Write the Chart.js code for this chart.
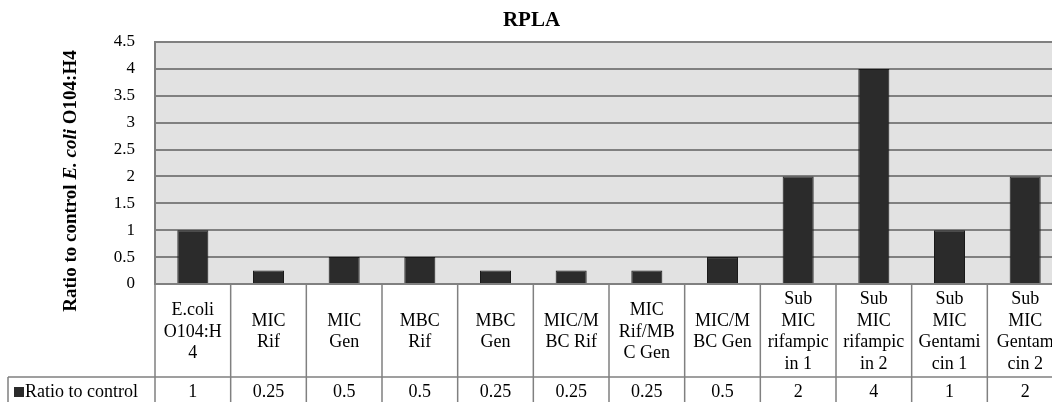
<!DOCTYPE html>
<html><head><meta charset="utf-8">
<script src="https://cdn.jsdelivr.net/npm/chart.js@4"></script>
<style>
html,body{margin:0;padding:0;background:#fff;overflow:hidden;width:1052px;height:402px}
#wrap{width:1070px;height:402px;position:relative}
canvas{display:block}
</style></head>
<body><div id="wrap"><canvas id="c" width="1070" height="402"></canvas></div>
<script>
const chartTitle = 'RPLA';
const seriesName = 'Ratio to control';
const categories = [
  ['E.coli','O104:H','4'],
  ['MIC','Rif'],
  ['MIC','Gen'],
  ['MBC','Rif'],
  ['MBC','Gen'],
  ['MIC/M','BC Rif'],
  ['MIC','Rif/MB','C Gen'],
  ['MIC/M','BC Gen'],
  ['Sub','MIC','rifampic','in 1'],
  ['Sub','MIC','rifampic','in 2'],
  ['Sub','MIC','Gentami','cin 1'],
  ['Sub','MIC','Gentam','cin 2']
];
const values = [1, 0.25, 0.5, 0.5, 0.25, 0.25, 0.25, 0.5, 2, 4, 1, 2];
const valueLabels = ['1','0.25','0.5','0.5','0.25','0.25','0.25','0.5','2','4','1','2'];
const yTickLabels = ['0','0.5','1','1.5','2','2.5','3','3.5','4','4.5'];
const yTitleParts = [
  {text:'Ratio to control ', italic:false},
  {text:'E. coli', italic:true},
  {text:' O104:H4', italic:false}
];

const FONT = '"Liberation Serif","Times New Roman",serif';
const BAR = '#2b2b2b';
const GRID = '#808080';

const deco = {
  id: 'deco',
  beforeDraw(chart) {
    const ctx = chart.ctx, ca = chart.chartArea;
    ctx.save();
    ctx.fillStyle = '#ffffff';
    ctx.fillRect(0, 0, chart.width, chart.height);
    ctx.fillStyle = '#e2e2e2';
    ctx.fillRect(ca.left, ca.top, ca.right - ca.left, ca.bottom - ca.top);
    ctx.restore();
  },
  afterDraw(chart) {
    const ctx = chart.ctx, ca = chart.chartArea, xs = chart.scales.x;
    const n = categories.length;
    const colW = (ca.right - ca.left) / n;
    ctx.save();
    // title
    ctx.fillStyle = '#000';
    ctx.font = 'bold 21px ' + FONT;
    ctx.textAlign = 'center';
    ctx.textBaseline = 'middle';
    ctx.fillText(chartTitle, ca.right / 2, 21);
    // y title
    ctx.save();
    ctx.translate(71, 181);
    ctx.rotate(-Math.PI / 2);
    let total = 0;
    const fonts = yTitleParts.map(p => (p.italic ? 'italic ' : '') + 'bold 19px ' + FONT);
    yTitleParts.forEach((p, i) => { ctx.font = fonts[i]; total += ctx.measureText(p.text).width; });
    let x = -total / 2;
    ctx.textAlign = 'left';
    yTitleParts.forEach((p, i) => { ctx.font = fonts[i]; ctx.fillText(p.text, x, 0); x += ctx.measureText(p.text).width; });
    ctx.restore();
    // table
    const rowTop = ca.bottom, rowMid = ca.bottom + 93, rowBot = chart.height + 4;
    ctx.strokeStyle = GRID;
    ctx.lineWidth = 1.5;
    ctx.beginPath();
    for (let i = 0; i <= n; i++) {
      const xx = (i < n ? xs.getPixelForValue(i) - colW / 2 : xs.getPixelForValue(n - 1) + colW / 2);
      ctx.moveTo(xx, rowTop); ctx.lineTo(xx, rowBot);
    }
    ctx.moveTo(8, rowMid); ctx.lineTo(ca.right, rowMid);
    ctx.moveTo(8, rowMid); ctx.lineTo(8, rowBot);
    ctx.stroke();
    ctx.fillStyle = '#000';
    ctx.font = '18px ' + FONT;
    ctx.textAlign = 'center';
    ctx.textBaseline = 'middle';
    const lh = 21.5;
    const midLabel = (rowTop + rowMid) / 2 + 1.5;
    categories.forEach((lines, i) => {
      const cx = xs.getPixelForValue(i);
      const y0 = midLabel - (lines.length - 1) * lh / 2;
      lines.forEach((ln, j) => ctx.fillText(ln, cx, y0 + j * lh));
      ctx.fillText(valueLabels[i], cx, rowMid + 15);
    });
    // legend cell
    ctx.fillStyle = BAR;
    ctx.fillRect(14, rowMid + 10, 10, 10);
    ctx.fillStyle = '#000';
    ctx.textAlign = 'left';
    ctx.fillText(seriesName, 25, rowMid + 15);
    ctx.restore();
  }
};

new Chart(document.getElementById('c'), {
  type: 'bar',
  data: {
    labels: categories.map(l => l.join(' ')),
    datasets: [{
      label: seriesName,
      data: values,
      backgroundColor: BAR,
      borderColor: '#1a1a1a',
      borderWidth: 1,
      barPercentage: 0.41,
      categoryPercentage: 1
    }]
  },
  options: {
    responsive: false,
    animation: false,
    devicePixelRatio: 1,
    layout: { padding: { left: 0, right: 7, top: 42, bottom: 118 } },
    plugins: { legend: { display: false }, title: { display: false }, tooltip: { enabled: false } },
    scales: {
      x: { display: false },
      y: {
        min: 0, max: 4.5,
        afterFit(axis) { axis.width = 155; },
        border: { display: true, color: GRID, width: 2 },
        grid: { color: GRID, lineWidth: 2, drawTicks: false },
        ticks: {
          stepSize: 0.5,
          padding: 20,
          color: '#000',
          font: { family: FONT, size: 17 },
          callback: (v, i) => yTickLabels[i]
        }
      }
    }
  },
  plugins: [deco]
});
</script>
</body></html>
